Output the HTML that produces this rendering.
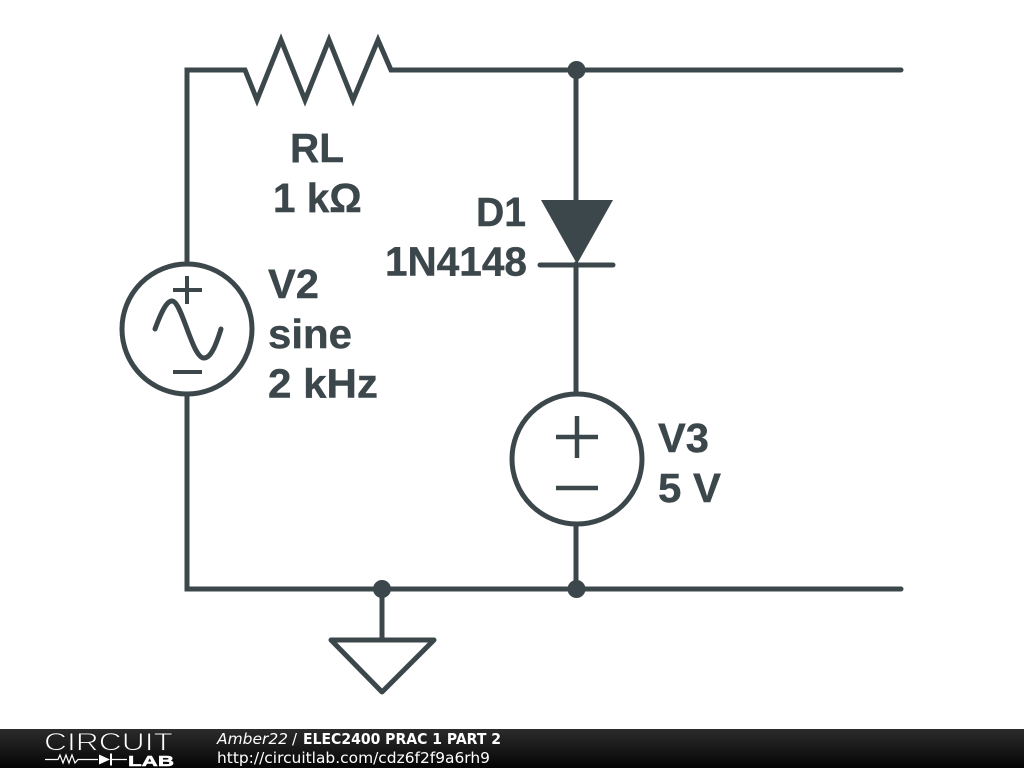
<!DOCTYPE html>
<html>
<head>
<meta charset="utf-8">
<style>
html,body{margin:0;padding:0;background:#fff;width:1024px;height:768px;overflow:hidden}
svg{display:block;position:absolute;left:0;top:0}
.l{font-family:"Liberation Sans",sans-serif;font-weight:bold;font-size:40.5px;fill:#3c474c;stroke:#3c474c;stroke-width:.4}
.f{font-family:"DejaVu Sans",sans-serif;font-size:15px;fill:#fff}
.c{font-family:"Liberation Sans",sans-serif;fill:#fff}
</style>
</head>
<body>
<svg width="1024" height="768" viewBox="0 0 1024 768">
<defs>
<linearGradient id="g" x1="0" y1="0" x2="0" y2="1">
<stop offset="0" stop-color="#2c2c2c"/><stop offset="1" stop-color="#050505"/>
</linearGradient>
</defs>
<g fill="none" stroke="#3c474c" stroke-width="5" stroke-linecap="round" stroke-linejoin="miter">
<path d="M187 264V70H245L257 100L281 40L305 100L329 40L353 100L378 40L391 70H901"/>
<path d="M187 396V589H901"/>
<path d="M576 70V200M576 264V393M576 525V589"/>
<path d="M382 589V640"/>
<path d="M331 640H434L382 692Z" stroke-linejoin="round"/>
<circle cx="187" cy="329" r="65"/>
<circle cx="577" cy="459" r="65"/>
<path d="M540 265H613"/>
<path d="M155 329C162 310 167 301 172 301C182 301 192 358 204 358C211 358 216 345 221 329" stroke-width="5"/>
<path d="M187 276V304M173 290H202M173 372H202" stroke-width="4" stroke-linecap="butt"/>
<path d="M577 416V458M556 437H598M556 488H598" stroke-width="4.5" stroke-linecap="butt"/>
</g>
<path d="M541 200H613L577 264Z" fill="#3c474c"/>
<circle cx="576.500" cy="70" r="9" fill="#3c474c"/>
<circle cx="576.500" cy="589" r="9" fill="#3c474c"/>
<circle cx="382" cy="589" r="9" fill="#3c474c"/>
<text class="l" x="290" y="162">RL</text>
<text class="l" x="273" y="212">1 kΩ</text>
<text class="l" x="476" y="226" textLength="50" lengthAdjust="spacingAndGlyphs">D1</text>
<text class="l" x="385" y="275.500">1N4148</text>
<text class="l" x="268" y="298" textLength="51" lengthAdjust="spacingAndGlyphs">V2</text>
<text class="l" x="268" y="348" textLength="84" lengthAdjust="spacingAndGlyphs">sine</text>
<text class="l" x="268" y="397.500" textLength="110" lengthAdjust="spacingAndGlyphs">2 kHz</text>
<text class="l" x="658" y="452" textLength="51" lengthAdjust="spacingAndGlyphs">V3</text>
<text class="l" x="658" y="502" textLength="63" lengthAdjust="spacingAndGlyphs">5 V</text>
<rect x="0" y="729" width="1024" height="39" fill="url(#g)"/>
<text class="c" x="44" y="750.500" font-size="25" textLength="129" lengthAdjust="spacingAndGlyphs" style="fill:#fff;stroke:#1f1f1f;stroke-width:.9">CIRCUIT</text>
<path d="M45 759.500H58L60 755L63 763L66 755L69 763L72 755L75 763L78 759.500H98M112 759.500H127" fill="none" stroke="#fff" stroke-width="1.200"/>
<path d="M99 754.500L110 759.500L99 764.500Z" fill="#fff"/>
<rect x="110" y="753.500" width="2" height="12" fill="#fff"/>
<text class="c" x="128" y="766" font-size="15" font-weight="bold" textLength="46" lengthAdjust="spacingAndGlyphs" style="stroke:#fff;stroke-width:.5">LAB</text>
<text class="f" x="217" y="744" font-style="italic" textLength="71" lengthAdjust="spacingAndGlyphs">Amber22</text>
<text class="f" x="292" y="744">/</text>
<text class="f" x="303" y="744" font-weight="bold" textLength="198" lengthAdjust="spacingAndGlyphs">ELEC2400 PRAC 1 PART 2</text>
<text class="f" x="217" y="763" textLength="273" lengthAdjust="spacingAndGlyphs">http://circuitlab.com/cdz6f2f9a6rh9</text>
</svg>
</body>
</html>
